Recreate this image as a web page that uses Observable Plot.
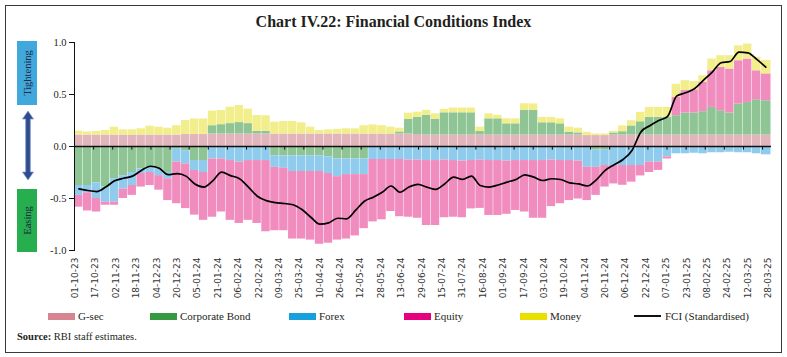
<!DOCTYPE html>
<html>
<head>
<meta charset="utf-8">
<script src="https://cdn.jsdelivr.net/npm/d3@7"></script>
<script src="https://cdn.jsdelivr.net/npm/@observablehq/plot@0.6"></script>
<style>
  body { margin: 0; background: #fff; }
  #wrap { position: relative; width: 787px; height: 357px; overflow: hidden; font-family: "Liberation Serif", serif; color: #231f20; }
  #border { position: absolute; left: 5px; top: 5px; width: 775px; height: 346px; border: 1px solid #3a3a3a; }
  #title { position: absolute; left: 0; top: 13px; width: 787px; text-align: center; font-weight: bold; font-size: 16px; line-height: 18px; }
  #chart { position: absolute; left: 0; top: 30px; }
  #ann { position: absolute; left: 0; top: 0; z-index: 2; }
  .leg { position: absolute; top: 309px; height: 14px; display: flex; align-items: center; gap: 3px; font-size: 11px; white-space: nowrap; }
  .sw { display: inline-block; width: 27px; height: 7px; }
  .ln { display: inline-block; width: 27px; height: 2px; background: #111; margin-right: 1px; }
  #source { position: absolute; left: 17px; top: 330px; font-size: 10.5px; line-height: 14px; }
</style>
</head>
<body>
<div id="wrap">
  <div id="border"></div>
  <div id="title">Chart IV.22: Financial Conditions Index</div>
  <div id="chart"></div>
  <svg id="ann" width="60" height="357">
    <rect x="17" y="41" width="20" height="64" fill="#41a8dc"></rect>
    <text transform="translate(27.5,73) rotate(-90)" text-anchor="middle" dominant-baseline="central" font-size="10.5" font-family="Liberation Serif" fill="#1f2a44">Tightening</text>
    <path d="M28 111 L33.5 119 L30.3 119 L30.3 172 L33.5 172 L28 180 L22.5 172 L25.7 172 L25.7 119 L22.5 119 Z" fill="#2f4b8c" stroke="#7d9bd4" stroke-width="0.8"></path>
    <rect x="17" y="189" width="20" height="63" fill="#27ae4f"></rect>
    <text transform="translate(27.5,220.5) rotate(-90)" text-anchor="middle" dominant-baseline="central" font-size="10.5" font-family="Liberation Serif" fill="#1f2a44">Easing</text>
  </svg>
  <div id="source"><b>Source:</b> RBI staff estimates.</div>
</div>
<script>
// ---- Data (weekly, week starting Sunday 01-10-2023) ----
const gsec = [
  0.11,0.11,0.11,0.11,0.11,0.11,0.11,0.11,0.11,0.11,
  0.11,0.11,0.115,0.115,0.115,0.12,0.12,0.12,0.12,0.12,
  0.12,0.12,0.12,0.12,0.12,0.12,0.12,0.12,0.12,0.12,
  0.12,0.12,0.12,0.12,0.12,0.12,0.12,0.12,0.115,0.11,
  0.11,0.11,0.11,0.11,0.11,0.11,0.11,0.11,0.11,0.11,
  0.11,0.11,0.11,0.11,0.11,0.11,0.11,0.105,0.105,0.105,
  0.11,0.11,0.11,0.11,0.11,0.11,0.11,0.11,0.11,0.11,
  0.11,0.11,0.11,0.11,0.11,0.11,0.11,0.11
];
const corpBond = [
  -0.375,-0.375,-0.35,-0.39,-0.31,-0.28,-0.25,-0.215,-0.2,-0.215,
  -0.25,-0.02,-0.04,-0.135,-0.135,0.08,0.09,0.10,0.11,0.10,
  0.025,0.025,-0.09,-0.09,-0.09,-0.09,-0.09,-0.09,-0.10,-0.12,
  -0.12,-0.12,-0.12,0,0,0,0.02,0.14,0.165,0.19,
  0.15,0.214,0.214,0.214,0.214,0.034,0.156,0.156,0.108,0.108,
  0.236,0.236,0.118,0.118,0.108,0.028,0.021,0,-0.035,-0.03,
  0.02,0.032,0.088,0.128,0.17,0.17,0.17,0.186,0.212,0.212,
  0.225,0.266,0.234,0.212,0.298,0.314,0.34,0.33
];
const forex = [
  -0.095,-0.07,-0.15,-0.145,-0.225,-0.13,-0.125,-0.045,-0.05,-0.065,
  -0.06,-0.13,-0.127,-0.095,-0.115,-0.12,-0.12,-0.135,-0.15,-0.135,
  -0.135,-0.135,-0.11,-0.12,-0.15,-0.15,-0.15,-0.15,-0.16,-0.17,
  -0.15,-0.15,-0.15,-0.125,-0.125,-0.125,-0.125,-0.13,-0.13,-0.135,
  -0.135,-0.13,-0.135,-0.14,-0.135,-0.13,-0.135,-0.135,-0.14,-0.135,
  -0.135,-0.135,-0.135,-0.13,-0.135,-0.135,-0.14,-0.2,-0.165,-0.153,
  -0.183,-0.183,-0.183,-0.183,-0.15,-0.15,-0.1,-0.07,-0.07,-0.065,
  -0.07,-0.06,-0.06,-0.055,-0.06,-0.06,-0.07,-0.08
];
const equity = [
  -0.113,-0.175,-0.13,-0.03,-0.03,-0.09,-0.095,-0.13,-0.125,-0.14,
  -0.21,-0.40,-0.43,-0.43,-0.46,-0.56,-0.51,-0.575,-0.59,-0.575,
  -0.605,-0.685,-0.61,-0.60,-0.65,-0.65,-0.66,-0.70,-0.67,-0.61,
  -0.62,-0.59,-0.52,-0.6,-0.58,-0.5,-0.55,-0.55,-0.56,-0.625,
  -0.625,-0.555,-0.545,-0.545,-0.465,-0.465,-0.528,-0.528,-0.512,-0.48,
  -0.495,-0.555,-0.555,-0.448,-0.415,-0.385,-0.365,-0.32,-0.27,-0.207,
  -0.177,-0.19,-0.16,-0.1,-0.1,-0.08,-0.02,0.176,0.216,0.223,
  0.283,0.352,0.417,0.423,0.417,0.417,0.278,0.258
];
const money = [
  0.037,0.03,0.034,0.044,0.076,0.05,0.05,0.06,0.086,0.076,
  0.066,0.09,0.135,0.15,0.15,0.14,0.136,0.158,0.164,0.14,
  0.153,0.15,0.114,0.12,0.12,0.108,0.066,0.034,0.04,0.045,
  0.05,0.05,0.08,0.088,0.08,0.066,0.036,0.06,0.05,0.048,
  0.054,0.032,0.046,0.046,0.046,0.042,0.048,0.034,0.048,0.048,
  0.064,0.064,0.052,0.052,0.048,0.048,0.045,0.032,0.015,0.015,
  0.016,0.056,0.05,0.09,0.096,0.096,0.096,0.126,0.095,0.08,
  0.063,0.113,0.112,0.128,0.143,0.144,0.13,0.13
];
const fci = [
  -0.407,-0.423,-0.433,-0.39,-0.33,-0.305,-0.285,-0.23,-0.19,-0.21,
  -0.27,-0.26,-0.285,-0.36,-0.39,-0.33,-0.247,-0.28,-0.31,-0.39,
  -0.478,-0.52,-0.54,-0.548,-0.56,-0.606,-0.68,-0.747,-0.734,-0.69,
  -0.695,-0.615,-0.526,-0.487,-0.44,-0.38,-0.44,-0.39,-0.365,-0.39,
  -0.413,-0.36,-0.295,-0.317,-0.285,-0.375,-0.39,-0.37,-0.343,-0.317,
  -0.272,-0.295,-0.327,-0.31,-0.317,-0.35,-0.36,-0.38,-0.32,-0.23,
  -0.176,-0.125,-0.038,0.14,0.2,0.25,0.29,0.484,0.516,0.555,
  0.635,0.715,0.805,0.817,0.907,0.9,0.837,0.763
];
const seriesNames = ["G-sec", "Corporate Bond", "Forex", "Equity", "Money"];
const lineName = "FCI (Standardised)";
const tickLabels = [
  "01-10-23","17-10-23","02-11-23","18-11-23","04-12-23","20-12-23","05-01-24","21-01-24",
  "06-02-24","22-02-24","09-03-24","25-03-24","10-04-24","26-04-24","12-05-24","28-05-24",
  "13-06-24","29-06-24","15-07-24","31-07-24","16-08-24","01-09-24","17-09-24","03-10-24",
  "19-10-24","04-11-24","20-11-24","06-12-24","22-12-24","07-01-25","23-01-25","08-02-25",
  "24-02-25","12-03-25","28-03-25"
];
const firstDay = "2023-10-01";
const lastDay = "2025-03-31";

// ---- Styles ----
const barColors = ["#e2b4bc", "#8fc595", "#8ecbec", "#f08dbe", "#f2ee8c"];
const legendColors = ["#d78590", "#35993f", "#18a0dc", "#e5007d", "#e9e000"];
const legendX = [48, 150, 289, 404, 520, 634];

// ---- Build ----
const start = new Date(firstDay);
const end = new Date(lastDay);
const weeks = gsec.map((_, i) => d3.utcDay.offset(start, 7 * i));
const values = [gsec, corpBond, forex, equity, money];
const rows = [];
weeks.forEach((w, i) => {
  const x2 = i < weeks.length - 1 ? weeks[i + 1] : end;
  seriesNames.forEach((s, j) => rows.push({x1: w, x2, series: s, value: values[j][i]}));
});
const lineRows = weeks.map((w, i) => ({mid: d3.utcHour.offset(w, 84), value: fci[i]}));
const parseLabel = d3.utcParse("%d-%m-%y");
const labelDates = tickLabels.map(s => d3.utcHour.offset(parseLabel(s), 12));
const tickDates = d3.range(0, 548, 15).map(n => d3.utcDay.offset(start, n));
const fmt = d3.utcFormat("%d-%m-%y");

const chart = Plot.plot({
  width: 787,
  height: 275,
  marginLeft: 74,
  marginRight: 16,
  marginTop: 12,
  marginBottom: 55,
  style: {background: "transparent", color: "#231f20", overflow: "visible"},
  x: {type: "utc", domain: [start, end], axis: null},
  y: {domain: [-1, 1], axis: null},
  color: {domain: seriesNames, range: barColors},
  marks: [
    Plot.rectY(rows, {x1: "x1", x2: "x2", y: "value", fill: "series", order: seriesNames, insetRight: 0.5}),
    Plot.ruleY([0], {stroke: "#111", strokeWidth: 1.3}),
    Plot.ruleX(tickDates, {y1: 0, y2: -0.035, stroke: "#111", strokeWidth: 1}),
    Plot.line(lineRows, {x: "mid", y: "value", stroke: "#000", strokeWidth: 1.7, curve: "monotone-x"}),
    Plot.frame({anchor: "left", stroke: "#111"}),
    Plot.axisY({ticks: [-1, -0.5, 0, 0.5, 1], label: null, tickSize: 5, tickPadding: 3, tickFormat: d => d.toFixed(1), fontSize: 10.5, fontFamily: "Liberation Serif", stroke: "#111"}),
    Plot.axisX({ticks: labelDates, label: null, tickSize: 0, tickPadding: 7, tickRotate: -90, tickFormat: d => fmt(d), fontSize: 9, fontFamily: "DejaVu Sans", fill: "#333"})
  ]
});
document.getElementById("chart").appendChild(chart);

// ---- Legend ----
const wrap = document.getElementById("wrap");
seriesNames.concat([lineName]).forEach((name, i) => {
  const item = document.createElement("div");
  item.className = "leg";
  item.style.left = legendX[i] + "px";
  const sw = document.createElement("span");
  if (i < seriesNames.length) { sw.className = "sw"; sw.style.background = legendColors[i]; }
  else { sw.className = "ln"; }
  const tx = document.createElement("span");
  tx.textContent = name;
  item.appendChild(sw);
  item.appendChild(tx);
  wrap.appendChild(item);
});
</script>
</body>
</html>
